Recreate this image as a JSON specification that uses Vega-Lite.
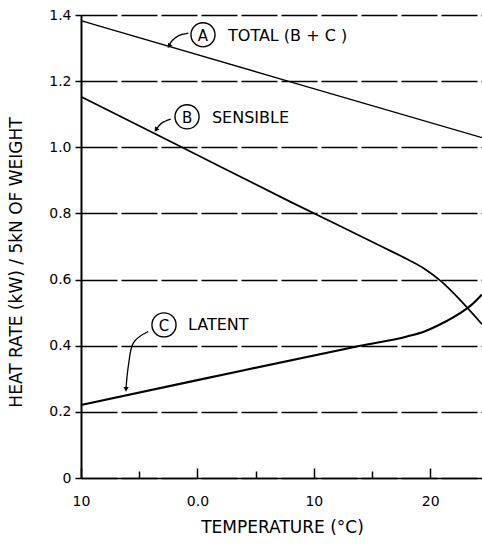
{
  "$schema": "https://vega.github.io/schema/vega-lite/v6.json",
  "width": 401,
  "height": 463,
  "autosize": "none",
  "padding": {"left": 81, "top": 15, "right": 0, "bottom": 66},
  "background": "white",
  "config": {
    "view": {"stroke": null},
    "font": "DejaVu Sans",
    "axis": {
      "domainColor": "black",
      "tickColor": "black",
      "labelColor": "black",
      "titleColor": "black",
      "labelFont": "DejaVu Sans",
      "titleFont": "DejaVu Sans",
      "titleFontWeight": "normal",
      "labelFontSize": 14,
      "titleFontSize": 17,
      "labelOverlap": false,
      "labelFlush": false
    }
  },
  "datasets": {
    "curves": [
      {"series": "Total", "temp": -10, "rate": 1.383},
      {"series": "Total", "temp": 7.4, "rate": 1.204},
      {"series": "Total", "temp": 24.45, "rate": 1.029},
      {"series": "Sensible", "temp": -10, "rate": 1.153},
      {"series": "Sensible", "temp": -1.5, "rate": 1.003},
      {"series": "Sensible", "temp": 8, "rate": 0.835},
      {"series": "Sensible", "temp": 16, "rate": 0.697},
      {"series": "Sensible", "temp": 18, "rate": 0.662},
      {"series": "Sensible", "temp": 19.5, "rate": 0.633},
      {"series": "Sensible", "temp": 21, "rate": 0.593},
      {"series": "Sensible", "temp": 22.5, "rate": 0.541},
      {"series": "Sensible", "temp": 24.45, "rate": 0.465},
      {"series": "Latent", "temp": -10, "rate": 0.221},
      {"series": "Latent", "temp": 0, "rate": 0.296},
      {"series": "Latent", "temp": 14, "rate": 0.4},
      {"series": "Latent", "temp": 18, "rate": 0.428},
      {"series": "Latent", "temp": 19.5, "rate": 0.443},
      {"series": "Latent", "temp": 21, "rate": 0.467},
      {"series": "Latent", "temp": 22.5, "rate": 0.497},
      {"series": "Latent", "temp": 23.5, "rate": 0.522},
      {"series": "Latent", "temp": 24.45, "rate": 0.555}
    ],
    "circles": [
      {"letter": "A", "temp": 0.48, "rate": 1.34},
      {"letter": "B", "temp": -0.89, "rate": 1.092},
      {"letter": "C", "temp": -2.87, "rate": 0.463}
    ],
    "labels": [
      {"text": "TOTAL (B + C )", "temp": 2.63, "rate": 1.34},
      {"text": "SENSIBLE", "temp": 1.25, "rate": 1.092},
      {"text": "LATENT", "temp": -0.81, "rate": 0.466}
    ],
    "leaders": [
      {"leader": "A", "temp": -0.78, "rate": 1.345},
      {"leader": "A", "temp": -1.64, "rate": 1.337},
      {"leader": "A", "temp": -2.18, "rate": 1.322},
      {"leader": "A", "temp": -2.44, "rate": 1.306},
      {"leader": "B", "temp": -2.29, "rate": 1.085},
      {"leader": "B", "temp": -3.07, "rate": 1.073},
      {"leader": "B", "temp": -3.56, "rate": 1.053},
      {"leader": "C", "temp": -4.22, "rate": 0.443},
      {"leader": "C", "temp": -5.51, "rate": 0.408},
      {"leader": "C", "temp": -5.94, "rate": 0.337},
      {"leader": "C", "temp": -6.13, "rate": 0.272}
    ],
    "tips": [
      {"leader": "A", "temp": -2.44, "rate": 1.306},
      {"leader": "B", "temp": -3.56, "rate": 1.053},
      {"leader": "C", "temp": -6.13, "rate": 0.268}
    ]
  },
  "layer": [
    {
      "data": {"name": "curves"},
      "mark": {"type": "line", "interpolate": "monotone", "color": "black"},
      "encoding": {
        "x": {
          "field": "temp",
          "type": "quantitative",
          "scale": {"domain": [-10, 24.45], "nice": false, "zero": false},
          "axis": {
            "values": [-10, -5, 0, 5, 10, 15, 20],
            "labelExpr": "datum.value == -10 ? '10' : datum.value == 0 ? '0.0' : (datum.value == 10 || datum.value == 20) ? datum.label : ''",
            "tickSize": {"condition": {"test": "datum.value % 10 == 0", "value": -10}, "value": -7},
            "tickWidth": 1.5,
            "domainWidth": 1.5,
            "grid": false,
            "labelPadding": 26,
            "labelBaseline": "top",
            "title": "TEMPERATURE (°C)",
            "titleX": 201,
            "titleY": 49,
            "titleAlign": "center",
            "titleBaseline": "middle"
          }
        },
        "y": {
          "field": "rate",
          "type": "quantitative",
          "scale": {"domain": [0, 1.4], "nice": false},
          "axis": {
            "values": [0, 0.2, 0.4, 0.6, 0.8, 1.0, 1.2, 1.4],
            "labelExpr": "datum.value == 0 ? '0' : format(datum.value, '.1f')",
            "tickSize": 6,
            "tickWidth": 1.5,
            "domainWidth": 2,
            "labelPadding": 4,
            "grid": true,
            "gridColor": "black",
            "gridDash": [36, 4],
            "gridWidth": 1.5,
            "gridOpacity": 1,
            "title": "HEAT RATE (kW) / 5kN OF WEIGHT",
            "titleX": -65,
            "titleY": 247,
            "titleAngle": -90,
            "titleAlign": "center",
            "titleBaseline": "middle"
          }
        },
        "detail": {"field": "series"},
        "strokeWidth": {
          "field": "series",
          "type": "nominal",
          "scale": {"domain": ["Total", "Sensible", "Latent"], "range": [1.4, 2.1, 1.6]},
          "legend": null
        }
      }
    },
    {
      "data": {"name": "leaders"},
      "mark": {"type": "line", "interpolate": "cardinal", "color": "black", "strokeWidth": 1.3},
      "encoding": {
        "x": {"field": "temp", "type": "quantitative"},
        "y": {"field": "rate", "type": "quantitative"},
        "detail": {"field": "leader"}
      }
    },
    {
      "data": {"name": "tips"},
      "transform": [{"filter": "datum.leader != 'C'"}],
      "mark": {"type": "point", "shape": "triangle-down", "filled": true, "color": "black", "size": 28, "angle": 35, "opacity": 1},
      "encoding": {
        "x": {"field": "temp", "type": "quantitative"},
        "y": {"field": "rate", "type": "quantitative"}
      }
    },
    {
      "data": {"name": "tips"},
      "transform": [{"filter": "datum.leader == 'C'"}],
      "mark": {"type": "point", "shape": "triangle-down", "filled": true, "color": "black", "size": 28, "opacity": 1},
      "encoding": {
        "x": {"field": "temp", "type": "quantitative"},
        "y": {"field": "rate", "type": "quantitative"}
      }
    },
    {
      "data": {"name": "circles"},
      "mark": {"type": "point", "shape": "circle", "filled": false, "color": "black", "strokeWidth": 1.4, "size": 580, "opacity": 1},
      "encoding": {
        "x": {"field": "temp", "type": "quantitative"},
        "y": {"field": "rate", "type": "quantitative"}
      }
    },
    {
      "data": {"name": "circles"},
      "mark": {"type": "text", "font": "DejaVu Sans", "fontSize": 15, "color": "black", "align": "center", "baseline": "middle", "dy": 1},
      "encoding": {
        "x": {"field": "temp", "type": "quantitative"},
        "y": {"field": "rate", "type": "quantitative"},
        "text": {"field": "letter"}
      }
    },
    {
      "data": {"name": "labels"},
      "mark": {"type": "text", "font": "DejaVu Sans", "fontSize": 16, "color": "black", "align": "left", "baseline": "middle", "dy": 1},
      "encoding": {
        "x": {"field": "temp", "type": "quantitative"},
        "y": {"field": "rate", "type": "quantitative"},
        "text": {"field": "text"}
      }
    }
  ]
}
